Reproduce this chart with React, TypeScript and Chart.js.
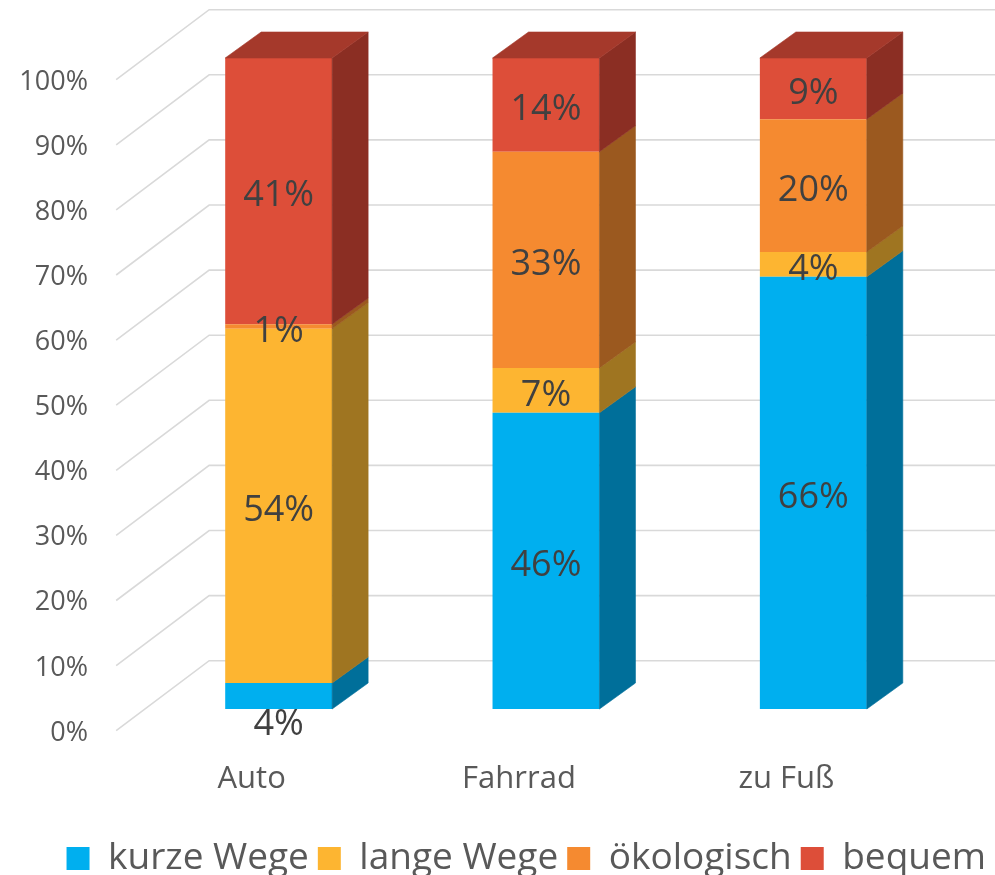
import React, { useEffect, useRef } from 'react';
import { Chart, registerables } from 'chart.js';

Chart.register(...registerables);

// ---------- data ----------
const categories = ['Auto', 'Fahrrad', 'zu Fuß'];
const seriesNames = ['kurze Wege', 'lange Wege', 'ökologisch', 'bequem'];
const kurzeWege = [4.0, 45.5, 66.4];
const langeWege = [54.4, 6.9, 3.8];
const oekologisch = [0.7, 33.2, 20.4];
const bequem = [40.9, 14.4, 9.4];
const yTickValues = [0, 10, 20, 30, 40, 50, 60, 70, 80, 90, 100];

// ---------- styles ----------
const FONT = "'Open Sans', 'Noto Sans', sans-serif";
const frontColors = ['#00AFEF', '#FDB531', '#F58A30', '#DD4E39'];
const sideColors = ['#006F9A', '#9F7521', '#9B591F', '#8B2E23'];
const topColors = ['#0089BB', '#C88F26', '#C26F27', '#A5392B'];

const PLOT_TOP = 58;
const PLOT_BOTTOM = 709;
const Y_AXIS_WIDTH = 145;
const RIGHT_PAD = 48;
const LEGEND_SHIFT_X = 48;
const LEGEND_SHIFT_Y = 12;
// wall depth (perspective) and bar depth
const WALL_DX = 93;
const WALL_DY = -70;
const BAR_FRONT = 0.31; // fraction of wall depth where bar fronts sit
const BAR_DX = 36;
const BAR_DY = -26;

function poly(ctx: CanvasRenderingContext2D, pts: number[], fill: string) {
  ctx.beginPath();
  ctx.moveTo(pts[0], pts[1]);
  for (let i = 2; i < pts.length; i += 2) ctx.lineTo(pts[i], pts[i + 1]);
  ctx.closePath();
  ctx.fillStyle = fill;
  ctx.strokeStyle = fill;
  ctx.lineWidth = 0.6;
  ctx.fill();
  ctx.stroke();
}

const threeDPlugin = {
  id: 'threeD',
  afterLayout(chart: any) {
    if (chart.legend) {
      chart.legend.top += LEGEND_SHIFT_Y;
      chart.legend.bottom += LEGEND_SHIFT_Y;
      chart.legend.left += LEGEND_SHIFT_X;
      chart.legend.right += LEGEND_SHIFT_X;
    }
  },
  beforeDatasetsDraw(chart: any) {
    const { ctx, chartArea } = chart;
    const y = chart.scales.y;
    ctx.save();
    ctx.strokeStyle = '#D9D9D9';
    ctx.lineWidth = 1.6;
    for (const t of y.ticks) {
      const py = y.getPixelForValue(t.value);
      const fx = chartArea.left - WALL_DX * BAR_FRONT;
      const fy = py - WALL_DY * BAR_FRONT;
      const bx = chartArea.left + WALL_DX * (1 - BAR_FRONT);
      const by = py + WALL_DY * (1 - BAR_FRONT);
      ctx.beginPath();
      ctx.moveTo(fx, fy);
      ctx.lineTo(bx, by);
      ctx.lineTo(chart.width, by);
      ctx.stroke();
    }
    ctx.restore();
  },
  afterDatasetsDraw(chart: any) {
    const { ctx } = chart;
    const n = chart.data.datasets.length;
    ctx.save();
    const nCat = chart.data.labels.length;
    for (let i = 0; i < nCat; i++) {
      let topIdx = -1;
      for (let d = 0; d < n; d++) if (chart.data.datasets[d].data[i] > 0) topIdx = d;
      for (let d = 0; d < n; d++) {
        const bar = chart.getDatasetMeta(d).data[i];
        const { x, y, base, width } = bar.getProps(['x', 'y', 'base', 'width'], true);
        const left = x - width / 2;
        const right = x + width / 2;
        const top = Math.min(y, base);
        const bottom = Math.max(y, base);
        poly(ctx, [right, top, right + BAR_DX, top + BAR_DY, right + BAR_DX, bottom + BAR_DY, right, bottom], sideColors[d]);
        if (d === topIdx) {
          poly(ctx, [left, top, left + BAR_DX, top + BAR_DY, right + BAR_DX, top + BAR_DY, right, top], topColors[d]);
        }
      }
    }
    // data labels
    ctx.font = `400 36px ${FONT}`;
    ctx.fillStyle = '#404040';
    ctx.textAlign = 'center';
    ctx.textBaseline = 'middle';
    for (let d = 0; d < n; d++) {
      const meta = chart.getDatasetMeta(d);
      meta.data.forEach((bar: any, i: number) => {
        const v = chart.data.datasets[d].data[i];
        const { x, y, base } = bar.getProps(['x', 'y', 'base'], true);
        const top = Math.min(y, base);
        const bottom = Math.max(y, base);
        let ly = (top + bottom) / 2 + 5;
        if (d === 0 && v < 5) ly = bottom + 16;
        ctx.fillText(`${Math.round(v)}%`, x, ly);
      });
    }
    ctx.restore();
  },
};

export default function App() {
  const ref = useRef<HTMLCanvasElement | null>(null);
  useEffect(() => {
    document.body.style.margin = '0';
    const canvas = ref.current;
    if (!canvas) return;
    const seriesData = [kurzeWege, langeWege, oekologisch, bequem];
    const chart = new Chart(canvas, {
      type: 'bar',
      data: {
        labels: categories,
        datasets: seriesNames.map((name, k) => ({
          label: name,
          data: seriesData[k],
          backgroundColor: frontColors[k],
          borderWidth: 0,
          categoryPercentage: 0.8,
          barPercentage: 0.5,
        })),
      },
      options: {
        responsive: false,
        animation: false,
        devicePixelRatio: 1,
        events: [],
        layout: { padding: { top: PLOT_TOP, right: RIGHT_PAD, left: 0, bottom: 0 } },
        plugins: {
          tooltip: { enabled: false },
          legend: {
            position: 'bottom',
            align: 'end',
            labels: {
              font: { family: FONT, size: 37, weight: '400' },
              color: '#595959',
              boxWidth: 23,
              boxHeight: 23,
              padding: 9,
            },
          },
        },
        scales: {
          x: {
            stacked: true,
            grid: { display: false, drawTicks: false },
            border: { display: false },
            ticks: {
              font: { family: FONT, size: 31, weight: '400' },
              color: '#595959',
              padding: 52,
              labelOffset: -27,
            },
            afterFit: (s: any) => {
              const lh = s.chart.legend ? s.chart.legend.height : 0;
              s.height = s.chart.height - PLOT_BOTTOM - lh;
              s.paddingLeft = 0;
              s.paddingRight = 0;
            },
          },
          y: {
            stacked: true,
            min: 0,
            max: 100,
            grid: { display: false, drawTicks: false },
            border: { display: false },
            ticks: {
              stepSize: 10,
              font: { family: FONT, size: 27, weight: '400' },
              color: '#595959',
              padding: 57,
              labelOffset: 24,
              callback: (v: any) => (yTickValues.includes(v) ? `${v}%` : ''),
            },
            afterFit: (s: any) => {
              s.width = Y_AXIS_WIDTH;
              s.paddingTop = 0;
              s.paddingBottom = 0;
            },
          },
        },
      },
      plugins: [threeDPlugin],
    } as any);
    return () => chart.destroy();
  }, []);
  return (
    <div style={{ width: 995, height: 875 }}>
      <canvas ref={ref} width={995} height={875} style={{ display: 'block' }} />
    </div>
  );
}
